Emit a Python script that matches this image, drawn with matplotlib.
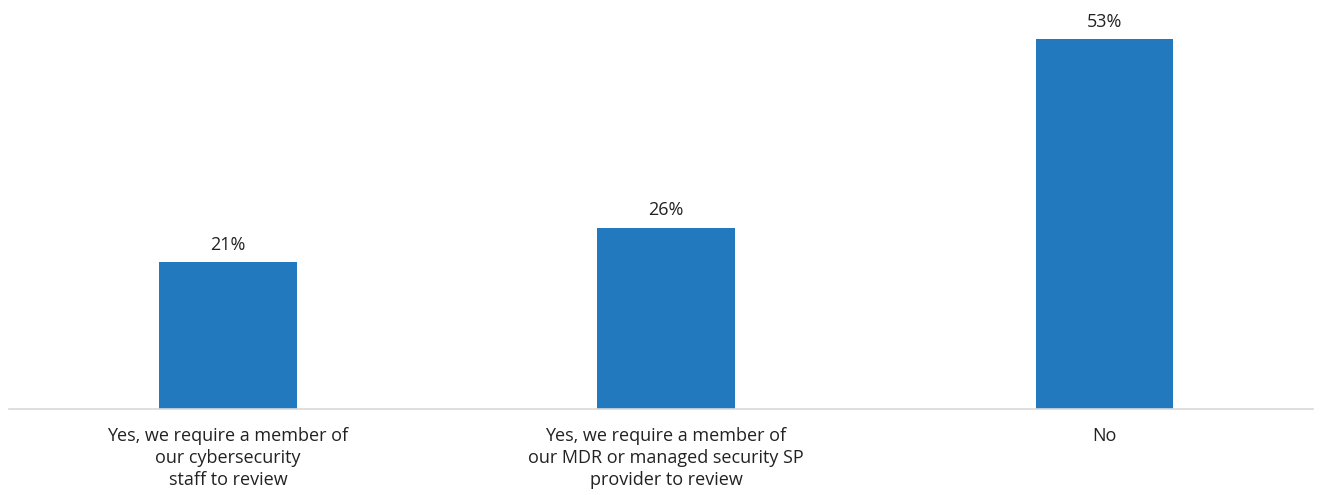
import matplotlib
matplotlib.use("Agg")
import matplotlib.pyplot as plt

categories = [
    "Yes, we require a member of\nour cybersecurity\nstaff to review",
    "Yes, we require a member of\nour MDR or managed security SP\nprovider to review",
    "No",
]
values = [21, 26, 53]
value_labels = ["21%", "26%", "53%"]

plt.rcParams['font.family'] = ['Open Sans', 'DejaVu Sans']

fig = plt.figure(figsize=(13.23, 4.95), dpi=100)
ax = fig.add_axes([9/1323, 86/495, 1304/1323, 409/495])

x = list(range(len(values)))
bars = ax.bar(x, values, width=0.313, color="#2279bd")
ax.set_xlim(-0.5, 2.477)
ax.set_ylim(0, 58.6)

for b, lab in zip(bars, value_labels):
    ax.annotate(lab, (b.get_x() + b.get_width()/2, b.get_height()),
                xytext=(0, 6), textcoords="offset points",
                ha="center", va="bottom", fontsize=13, color="#222222")

ax.set_xticks(x)
ax.set_xticklabels(categories, fontsize=13, color="#222222", linespacing=1.29)
ax.tick_params(axis="x", length=0, pad=13)
ax.set_yticks([])
for s in ["top", "right", "left"]:
    ax.spines[s].set_visible(False)
ax.spines["bottom"].set_color("#d9d9d9")
ax.spines["bottom"].set_linewidth(1.2)

fig.savefig("out.png", dpi=100)
